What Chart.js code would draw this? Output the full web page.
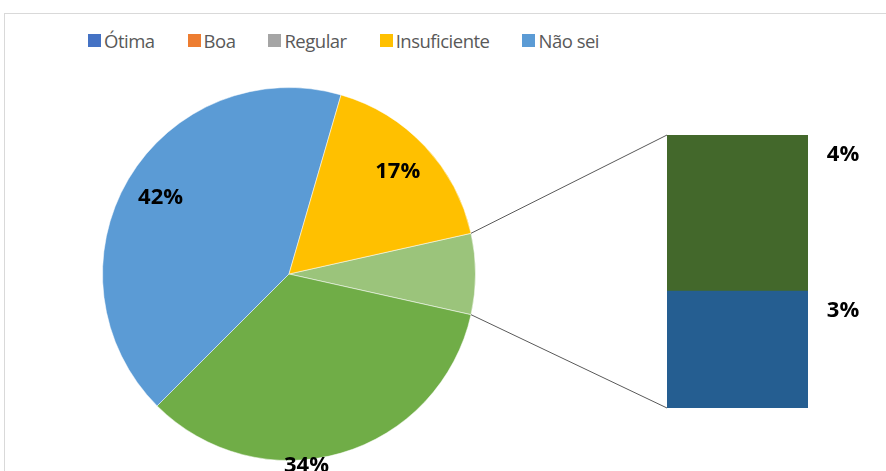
<!DOCTYPE html>
<html lang="pt">
<head>
  <meta charset="UTF-8">
  <title>Avaliação</title>
  <script src="https://cdn.jsdelivr.net/npm/chart.js"></script>
  <style>
    body {
      margin: 0;
      background: #fff;
      overflow: hidden;
    }
    .wrap {
      position: relative;
      width: 886px;
      height: 471px;
      overflow: hidden;
      font-family: "Open Sans", Arial, sans-serif;
    }
    .frame {
      position: absolute;
      left: 4px;
      top: 13px;
      width: 950px;
      height: 520px;
      border: 1px solid #d9d9d9;
    }
    .layer {
      position: absolute;
      left: 0;
      top: 0;
    }
    #legend {
      position: absolute;
      left: 88px;
      top: 30px;
      height: 20px;
      margin: 0;
      padding: 0;
      list-style: none;
      display: flex;
      align-items: center;
      gap: 33px;
      color: #595959;
      font-size: 18.5px;
      letter-spacing: -0.5px;
    }
    #legend li {
      display: flex;
      align-items: center;
      gap: 3px;
      white-space: nowrap;
    }
    #legend span.box {
      display: inline-block;
      width: 13px;
      height: 13px;
    }
  </style>
</head>
<body>
  <div class="wrap">
    <div class="frame"></div>
    <ul id="legend"></ul>
    <canvas id="pieChart" class="layer" width="886" height="471"></canvas>
    <canvas id="barChart" class="layer" width="886" height="471"></canvas>
  </div>

  <script>
    // dados
    const categories = ["Ótima", "Boa", "Regular", "Insuficiente", "Não sei"];
    const values = [3, 4, 34, 17, 42];
    const legendColors = ["#4472C4", "#ED7D31", "#A5A5A5", "#FFC000", "#5B9BD5"];

    // fatia "outros" (Ótima + Boa) vai para a barra da direita
    const splitIdx = [0, 1];
    const pieIdx = [2, 4, 3];          // Regular, Não sei, Insuficiente (sentido horário)
    const pieColors = ["#9BC47B", "#70AD47", "#5B9BD5", "#FFC000"];
    const barColors = ["#255E91", "#43682B"];  // Ótima (baixo), Boa (cima)

    const total = values.reduce((a, b) => a + b, 0);
    const otherValue = splitIdx.reduce((s, i) => s + values[i], 0);
    const pieValues = [otherValue].concat(pieIdx.map(i => values[i]));

    const labelFont = "bold 22px 'Open Sans', Arial, sans-serif";

    // legenda em HTML
    const legendEl = document.getElementById("legend");
    categories.forEach((name, i) => {
      const li = document.createElement("li");
      const box = document.createElement("span");
      box.className = "box";
      box.style.background = legendColors[i];
      li.appendChild(box);
      li.appendChild(document.createTextNode(name));
      legendEl.appendChild(li);
    });

    // rótulos das fatias: fator do raio e deslocamento do ângulo (graus)
    const pieLabelPos = [null, { r: 1.035, shift: 11 }, { r: 0.8, shift: 0 }, { r: 0.8, shift: 0 }];

    const pieLabels = {
      id: "pieLabels",
      afterDatasetsDraw(chart) {
        const ctx = chart.ctx;
        const meta = chart.getDatasetMeta(0);
        ctx.save();
        ctx.font = labelFont;
        ctx.fillStyle = "#000";
        ctx.textAlign = "center";
        ctx.textBaseline = "middle";
        meta.data.forEach((arc, i) => {
          const pos = pieLabelPos[i];
          if (!pos) return;
          const p = arc.getProps(["x", "y", "startAngle", "endAngle", "outerRadius"], true);
          const a = (p.startAngle + p.endAngle) / 2 + pos.shift * Math.PI / 180;
          const r = p.outerRadius * pos.r;
          ctx.fillText(pieValues[i] + "%", p.x + Math.cos(a) * r, p.y + Math.sin(a) * r);
        });
        ctx.restore();
      }
    };

    const pieChart = new Chart(document.getElementById("pieChart"), {
      type: "pie",
      data: {
        labels: ["Outros"].concat(pieIdx.map(i => categories[i])),
        datasets: [{
          data: pieValues,
          backgroundColor: pieColors,
          borderColor: "rgba(255,255,255,0.5)",
          borderWidth: 1
        }]
      },
      options: {
        responsive: false,
        animation: false,
        rotation: 90 - (otherValue / total) * 180,
        layout: { padding: { left: 101, right: 409, top: 87, bottom: 10 } },
        plugins: {
          legend: { display: false },
          tooltip: { enabled: false }
        }
      },
      plugins: [pieLabels]
    });

    // linhas de ligação + rótulos da barra
    const barExtras = {
      id: "barExtras",
      afterDatasetsDraw(chart) {
        const ctx = chart.ctx;
        const arc = pieChart.getDatasetMeta(0).data[0];
        const p = arc.getProps(["x", "y", "startAngle", "endAngle", "outerRadius"], true);
        const area = chart.chartArea;

        ctx.save();
        ctx.strokeStyle = "#595959";
        ctx.lineWidth = 1;
        ctx.beginPath();
        ctx.moveTo(p.x + Math.cos(p.startAngle) * p.outerRadius, p.y + Math.sin(p.startAngle) * p.outerRadius);
        ctx.lineTo(area.left, area.top);
        ctx.moveTo(p.x + Math.cos(p.endAngle) * p.outerRadius, p.y + Math.sin(p.endAngle) * p.outerRadius);
        ctx.lineTo(area.left, area.bottom);
        ctx.stroke();

        ctx.font = labelFont;
        ctx.fillStyle = "#000";
        ctx.textAlign = "center";
        ctx.textBaseline = "middle";
        chart.data.datasets.forEach((ds, i) => {
          const bar = chart.getDatasetMeta(i).data[0];
          const b = bar.getProps(["x", "y", "width"], true);
          ctx.fillText(ds.data[0] + "%", b.x + b.width / 2 + 35, b.y + 20);
        });
        ctx.restore();
      }
    };

    new Chart(document.getElementById("barChart"), {
      type: "bar",
      data: {
        labels: [""],
        datasets: splitIdx.map((idx, k) => ({
          label: categories[idx],
          data: [values[idx]],
          backgroundColor: barColors[k],
          borderWidth: 0,
          barPercentage: 1,
          categoryPercentage: 1
        }))
      },
      options: {
        responsive: false,
        animation: false,
        layout: { padding: { left: 667, right: 78, top: 135, bottom: 63 } },
        scales: {
          x: { stacked: true, display: false },
          y: { stacked: true, display: false, min: 0, max: otherValue }
        },
        plugins: {
          legend: { display: false },
          tooltip: { enabled: false }
        }
      },
      plugins: [barExtras]
    });
  </script>
</body>
</html>
